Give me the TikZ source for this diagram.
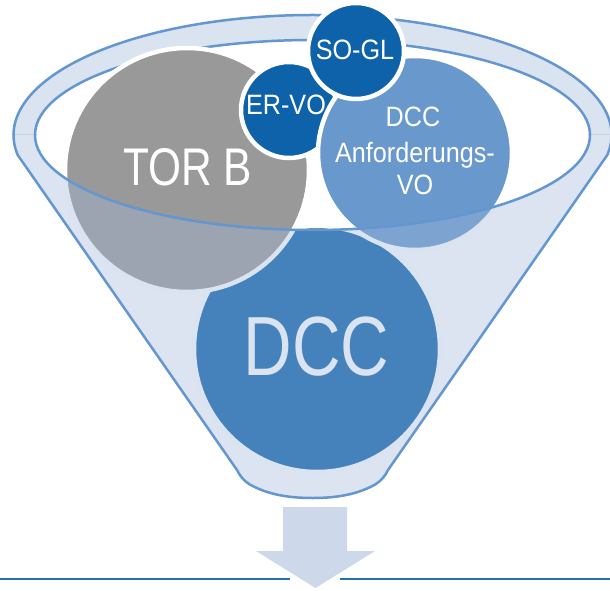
\documentclass[tikz,border=0pt]{standalone}
\usepackage{fontspec}
\setmainfont{Liberation Sans}
\newfontfamily\narrowfont[FakeStretch=0.8]{Liberation Sans}
\newfontfamily\midfont[FakeStretch=0.9]{Liberation Sans}
\definecolor{ringc}{RGB}{218,227,240}
\definecolor{tintc}{RGB}{160,183,216}
\definecolor{edgec}{RGB}{100,150,208}
\definecolor{darkb}{RGB}{14,98,170}
\definecolor{midb}{RGB}{104,152,204}
\definecolor{grayc}{RGB}{153,153,153}
\definecolor{arrowc}{RGB}{205,217,234}
\definecolor{linec}{RGB}{36,112,181}
\tikzset{
  disc/.style={circle, draw=white, line width=4.5pt, inner sep=0pt},
  lbl/.style={text=white, inner sep=0pt, anchor=base},
  rim/.style={draw=edgec, line width=2.5pt, line join=round},
}
\def\funnelpath{(17.7,155) -- (237,470) .. controls (240,476) and (243,480) .. (249,484)
  .. controls (268,495) and (290,498) .. (312.5,498)
  .. controls (335,498) and (357,495) .. (376,484)
  .. controls (382,480) and (385,476) .. (388,470)
  -- (607.3,155) arc[start angle=9.6, end angle=-189.6, x radius=299, y radius=120] -- cycle}
\def\innerpath{(312.5,135) ellipse [x radius=277.5, y radius=95]}
\begin{document}
\begin{tikzpicture}[x=1pt,y=-1pt]
\useasboundingbox (0,0) rectangle (610,591);
% back part of the funnel rim
\begin{scope}
  \clip (-20,-20) rectangle (630,135);
  \fill[ringc, even odd rule] \funnelpath \innerpath;
  \path[rim] \funnelpath;
  \path[rim] \innerpath;
\end{scope}
% circles
\node[disc, fill=darkb, minimum size=246pt] (dcc) at (317,349) {};
\node[lbl, font=\narrowfont\fontsize{84}{84}\selectfont] (dcct) at (316.5,375) {DCC};
\node[disc, fill=grayc, minimum size=244pt] (torb) at (187,170) {};
\node[lbl, font=\narrowfont\fontsize{53}{53}\selectfont] (torbt) at (187.5,185) {TOR B};
\node[disc, fill=darkb, minimum size=96pt] (ervo) at (289,110) {};
\node[lbl, font=\midfont\fontsize{28}{28}\selectfont] (ervot) at (286,115) {ER-VO};
\node[disc, fill=midb, minimum size=194pt] (dccvo) at (415,153) {};
\node[lbl, font=\midfont\fontsize{28}{28}\selectfont] (dccvo1) at (413,127) {DCC};
\node[lbl, font=\midfont\fontsize{28}{28}\selectfont] (dccvo2) at (415,162) {Anforderungs-};
\node[lbl, font=\midfont\fontsize{28}{28}\selectfont] (dccvo3) at (415,194) {VO};
\node[disc, fill=darkb, minimum size=96pt] (sogl) at (356,51) {};
\node[lbl, font=\midfont\fontsize{28}{28}\selectfont] (soglt) at (355,60) {SO-GL};
% front part of the funnel
\begin{scope}
  \clip (-20,135) rectangle (630,620);
  \fill[tintc, fill opacity=0.38, even odd rule] \funnelpath \innerpath;
  \path[rim] \funnelpath;
  \path[rim] \innerpath;
\end{scope}
% output arrow and base line
\fill[arrowc] (283,507) -- (347,507) -- (347,551) -- (375,551) -- (315.5,588)
  -- (256,551) -- (283,551) -- cycle;
\coordinate (l0) at (0,579);
\coordinate (l1) at (290,579);
\coordinate (l2) at (340,579);
\coordinate (l3) at (610,579);
\draw[linec, line width=2.2pt] (l0) -- (l1);
\draw[linec, line width=2.2pt] (l2) -- (l3);
\end{tikzpicture}
\end{document}
